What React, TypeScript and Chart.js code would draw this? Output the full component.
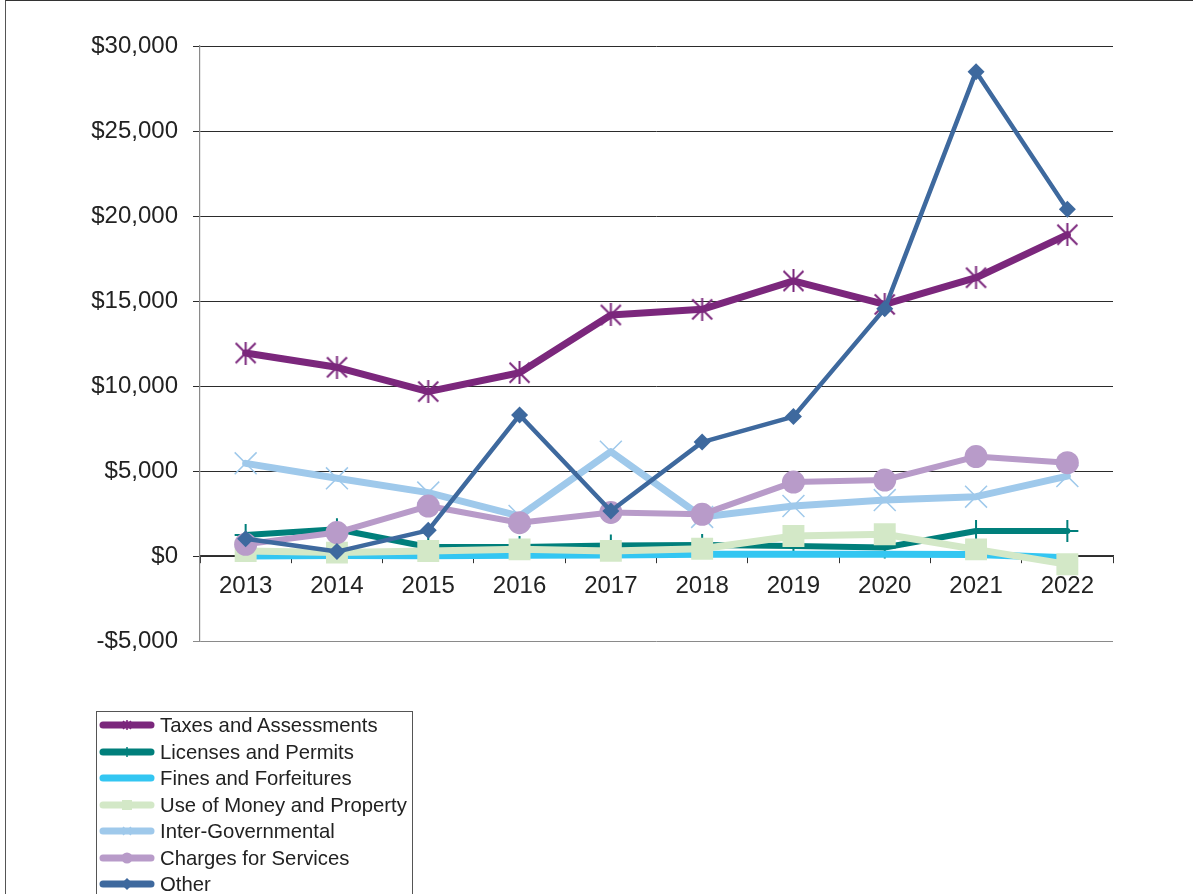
import React, { useEffect, useRef } from "react";
import { Chart, registerables } from "chart.js";

Chart.register(...registerables);

const years = ["2013", "2014", "2015", "2016", "2017", "2018", "2019", "2020", "2021", "2022"];

const taxesAndAssessments = [11940, 11100, 9670, 10780, 14180, 14510, 16180, 14800, 16370, 18900];
const licensesAndPermits = [1240, 1570, 530, 530, 620, 650, 590, 500, 1470, 1470];
const finesAndForfeitures = [0, 30, 20, 50, 60, 100, 110, 100, 90, -100];
const useOfMoneyAndProperty = [290, 200, 290, 390, 300, 430, 1180, 1280, 390, -490];
const interGovernmental = [5450, 4570, 3730, 2350, 6140, 2300, 2940, 3290, 3490, 4700];
const chargesForServices = [690, 1380, 2940, 1960, 2560, 2450, 4350, 4470, 5850, 5490];
const other = [1020, 260, 1510, 8290, 2650, 6700, 8200, 14550, 28490, 20390];

const yTickValues = [-5000, 0, 5000, 10000, 15000, 20000, 25000, 30000];
const yTickLabels = ["-$5,000", "$0", "$5,000", "$10,000", "$15,000", "$20,000", "$25,000", "$30,000"];

const seriesNames = [
  "Taxes and Assessments",
  "Licenses and Permits",
  "Fines and Forfeitures",
  "Use of Money and Property",
  "Inter-Governmental",
  "Charges for Services",
  "Other",
];
const seriesColors = ["#7B277C", "#007F7B", "#33C6F2", "#D3E8C7", "#9FC9EB", "#B89BC9", "#3E699E"];

const FONT = "'Liberation Sans', Arial, Helvetica, sans-serif";

function makeStar(size: number, color: string, lw: number): HTMLCanvasElement {
  const c = document.createElement("canvas");
  c.width = size;
  c.height = size;
  const ctx = c.getContext("2d")!;
  ctx.strokeStyle = color;
  ctx.lineWidth = lw;
  const m = lw / 2 + 0.5;
  ctx.beginPath();
  ctx.moveTo(m, m);
  ctx.lineTo(size - m, size - m);
  ctx.moveTo(size - m, m);
  ctx.lineTo(m, size - m);
  ctx.moveTo(size / 2, 0);
  ctx.lineTo(size / 2, size);
  ctx.stroke();
  return c;
}

function drawSwatch(canvas: HTMLCanvasElement, idx: number) {
  const ctx = canvas.getContext("2d")!;
  const w = canvas.width;
  const h = canvas.height;
  const cy = h / 2;
  const color = seriesColors[idx];
  ctx.clearRect(0, 0, w, h);
  ctx.strokeStyle = color;
  ctx.lineCap = "round";
  ctx.lineWidth = 7;
  ctx.beginPath();
  ctx.moveTo(4, cy);
  ctx.lineTo(w - 4, cy);
  ctx.stroke();
  const cx = w / 2;
  ctx.fillStyle = color;
  ctx.lineCap = "butt";
  if (idx === 0) {
    ctx.lineWidth = 1.5;
    ctx.beginPath();
    ctx.moveTo(cx - 4, cy - 4);
    ctx.lineTo(cx + 4, cy + 4);
    ctx.moveTo(cx + 4, cy - 4);
    ctx.lineTo(cx - 4, cy + 4);
    ctx.moveTo(cx, cy - 5);
    ctx.lineTo(cx, cy + 5);
    ctx.stroke();
  } else if (idx === 1) {
    ctx.lineWidth = 1.5;
    ctx.beginPath();
    ctx.moveTo(cx, cy - 5);
    ctx.lineTo(cx, cy + 5);
    ctx.stroke();
  } else if (idx === 3) {
    ctx.fillRect(cx - 5, cy - 5, 10, 10);
  } else if (idx === 4) {
    ctx.lineWidth = 1.5;
    ctx.beginPath();
    ctx.moveTo(cx - 4, cy - 4);
    ctx.lineTo(cx + 4, cy + 4);
    ctx.moveTo(cx + 4, cy - 4);
    ctx.lineTo(cx - 4, cy + 4);
    ctx.stroke();
  } else if (idx === 5) {
    ctx.beginPath();
    ctx.arc(cx, cy, 5.5, 0, Math.PI * 2);
    ctx.fill();
  } else if (idx === 6) {
    ctx.beginPath();
    ctx.moveTo(cx, cy - 6);
    ctx.lineTo(cx + 6, cy);
    ctx.lineTo(cx, cy + 6);
    ctx.lineTo(cx - 6, cy);
    ctx.closePath();
    ctx.fill();
  }
}

function Swatch({ idx }: { idx: number }) {
  const ref = useRef<HTMLCanvasElement | null>(null);
  useEffect(() => {
    if (ref.current) drawSwatch(ref.current, idx);
  }, [idx]);
  return <canvas ref={ref} width={56} height={16} style={{ display: "block", width: 56, height: 16 }} />;
}

export default function App() {
  const canvasRef = useRef<HTMLCanvasElement | null>(null);

  useEffect(() => {
    if (!canvasRef.current) return;
    const star = makeStar(23, seriesColors[0], 2);
    const allData = [
      taxesAndAssessments,
      licensesAndPermits,
      finesAndForfeitures,
      useOfMoneyAndProperty,
      interGovernmental,
      chargesForServices,
      other,
    ];
    const pointStyles: any[] = [star, "cross", "circle", "rect", "crossRot", "circle", "rectRot"];
    const pointRadii = [11, 11, 0, 15.5, 15.5, 11.5, 8.5];
    const lineWidths = [7, 6, 7, 7, 7, 6, 4.5];
    const pointBorderWidths = [0, 2, 0, 0, 1.5, 0, 0];

    const datasets = allData.map((d, i) => ({
      label: seriesNames[i],
      data: d,
      borderColor: seriesColors[i],
      backgroundColor: seriesColors[i],
      borderWidth: lineWidths[i],
      borderJoinStyle: "round" as const,
      borderCapStyle: "round" as const,
      tension: 0,
      pointStyle: pointStyles[i],
      pointRadius: pointRadii[i],
      pointHoverRadius: pointRadii[i],
      pointBackgroundColor: seriesColors[i],
      pointBorderColor: seriesColors[i],
      pointBorderWidth: pointBorderWidths[i],
      order: 6 - i,
    }));

    const chart = new Chart(canvasRef.current, {
      type: "line",
      data: { labels: years, datasets },
      options: {
        animation: false,
        responsive: false,
        maintainAspectRatio: false,
        events: [],
        layout: { padding: { left: 0, top: 46, right: 80, bottom: 253 } },
        plugins: {
          legend: { display: false },
          tooltip: { enabled: false },
          title: { display: false },
        },
        scales: {
          x: {
            type: "category",
            position: { y: 0 } as any,
            offset: true,
            grid: {
              offset: true,
              drawOnChartArea: false,
              drawTicks: true,
              tickLength: 7,
              color: "#333333",
              lineWidth: 1,
            },
            border: { display: true, color: "#333333", width: 1.2 },
            ticks: {
              color: "#222222",
              font: { family: FONT, size: 24 },
              padding: 9,
              maxRotation: 0,
              autoSkip: false,
            },
          },
          y: {
            type: "linear",
            position: "left",
            min: -5000,
            max: 30000,
            afterFit: (scale: any) => {
              scale.width = 200;
            },
            afterBuildTicks: (scale: any) => {
              scale.ticks = yTickValues.map((v) => ({ value: v }));
            },
            grid: {
              drawTicks: true,
              tickLength: 7,
              color: (ctx: any) => (ctx.tick && ctx.tick.value === -5000 ? "#8a8a8a" : "#2b2b2b"),
              lineWidth: 1,
            },
            border: { display: true, color: "#8a8a8a", width: 1.2 },
            ticks: {
              color: "#222222",
              font: { family: FONT, size: 24 },
              padding: 15,
              callback: (value: any) => {
                const i = yTickValues.indexOf(Number(value));
                return i >= 0 ? yTickLabels[i] : "";
              },
            },
          },
        },
      },
    });
    return () => chart.destroy();
  }, []);

  return (
    <div
      style={{
        position: "absolute",
        left: 0,
        top: 0,
        width: 1193,
        height: 894,
        overflow: "hidden",
        background: "#ffffff",
      }}
    >
      <div
        style={{
          position: "absolute",
          left: 5,
          top: 0,
          width: 1400,
          height: 1100,
          borderLeft: "1.5px solid #555555",
          borderTop: "1.5px solid #333333",
          boxSizing: "border-box",
        }}
      />
      <canvas
        ref={canvasRef}
        width={1193}
        height={894}
        style={{ position: "absolute", left: 0, top: 0, width: 1193, height: 894 }}
      />
      <div
        style={{
          position: "absolute",
          left: 96,
          top: 711,
          width: 317,
          height: 300,
          border: "1.5px solid #555555",
          boxSizing: "border-box",
          background: "#ffffff",
        }}
      >
        {seriesNames.map((name, i) => (
          <div
            key={name}
            style={{
              display: "flex",
              alignItems: "center",
              height: 26.5,
              marginLeft: 2,
            }}
          >
            <Swatch idx={i} />
            <span
              style={{
                marginLeft: 5,
                fontFamily: FONT,
                fontSize: 20.3,
                color: "#222222",
                whiteSpace: "nowrap",
                lineHeight: "26.5px",
              }}
            >
              {name}
            </span>
          </div>
        ))}
      </div>
    </div>
  );
}
